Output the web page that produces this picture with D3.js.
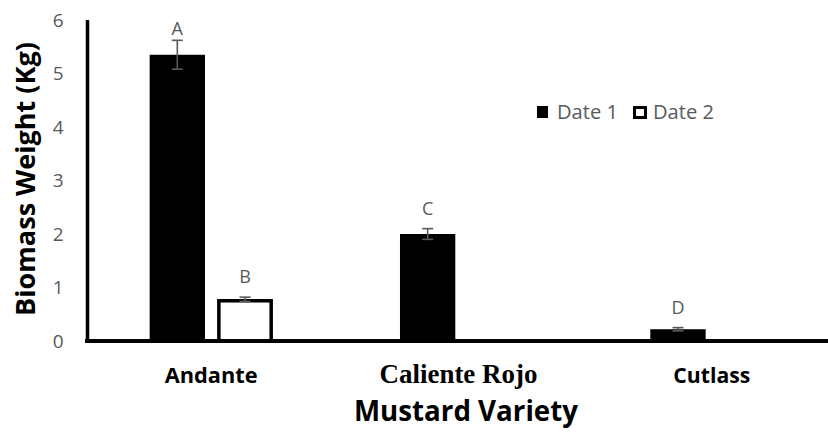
<!DOCTYPE html>
<html>
<head>
<meta charset="utf-8">
<script src="https://cdn.jsdelivr.net/npm/d3@7"></script>
<style>
  html, body { margin: 0; padding: 0; background: #fff; }
  svg { display: block; }
</style>
</head>
<body>
<svg id="chart" width="828" height="433"></svg>
<script>
// ---- data ----
const categories = ["Andante", "Caliente Rojo", "Cutlass"];
const seriesNames = ["Date 1", "Date 2"];
const date1Values = [5.35, 2.0, 0.22];
const date2Values = [0.78, 0, 0];
const date1Errors = [0.27, 0.1, 0.03];
const date2Errors = [0.04, 0, 0];
const date1Letters = ["A", "C", "D"];
const date2Letters = ["B", "", ""];
const yTicks = [0, 1, 2, 3, 4, 5, 6];

// ---- layout ----
const svg = d3.select("#chart");
const W = 828, H = 433;
const x0 = 86, x1 = 837, yTop = 20, yBottom = 341;

const x = d3.scaleBand().domain(categories).range([x0, x1]).paddingInner(0).paddingOuter(0);
const xs = d3.scaleBand().domain(seriesNames).range([0, x.bandwidth()]).paddingInner(0.183).paddingOuter(0.94);
const y = d3.scaleLinear().domain([0, 6]).range([yBottom, yTop]);

const textFont = "'Open Sans', Lato, sans-serif";
const serifFont = "'Liberation Serif', 'Times New Roman', serif";
const gray = "#595959";

// scale font-size so the text has the given width
function fit(sel, target) {
  sel.each(function () {
    const t = d3.select(this);
    const fs = parseFloat(t.attr("font-size"));
    const w = this.getComputedTextLength();
    if (w > 0) t.attr("font-size", fs * target / w);
  });
}

const rows = [];
categories.forEach((c, i) => {
  rows.push({cat: c, s: seriesNames[0], v: date1Values[i], e: date1Errors[i], l: date1Letters[i]});
  rows.push({cat: c, s: seriesNames[1], v: date2Values[i], e: date2Errors[i], l: date2Letters[i]});
});

// bars
svg.append("g").selectAll("rect").data(rows.filter(d => d.v > 0)).join("rect")
  .attr("x", d => x(d.cat) + xs(d.s) + (d.s === "Date 2" ? 1.5 : 0))
  .attr("y", d => y(d.v) + (d.s === "Date 2" ? 1.5 : 0))
  .attr("width", d => xs.bandwidth() - (d.s === "Date 2" ? 3 : 0))
  .attr("height", d => y(0) - y(d.v) - (d.s === "Date 2" ? 1.5 : 0))
  .attr("fill", d => d.s === "Date 1" ? "#000" : "#fff")
  .attr("stroke", d => d.s === "Date 1" ? "none" : "#000")
  .attr("stroke-width", 3.5);

// error bars
const eb = svg.append("g").attr("stroke", gray).attr("stroke-width", 1.6).attr("fill", "none");
rows.filter(d => d.v > 0 && d.e > 0).forEach(d => {
  const cx = x(d.cat) + xs(d.s) + xs.bandwidth() / 2;
  const cap = 5.5;
  eb.append("line").attr("x1", cx).attr("x2", cx).attr("y1", y(d.v + d.e)).attr("y2", y(d.v - d.e));
  eb.append("line").attr("x1", cx - cap).attr("x2", cx + cap).attr("y1", y(d.v + d.e)).attr("y2", y(d.v + d.e));
  eb.append("line").attr("x1", cx - cap).attr("x2", cx + cap).attr("y1", y(d.v - d.e)).attr("y2", y(d.v - d.e));
});

// letters
svg.append("g").selectAll("text").data(rows.filter(d => d.l)).join("text")
  .attr("x", d => x(d.cat) + xs(d.s) + xs.bandwidth() / 2)
  .attr("y", d => Math.max(y(d.v + d.e) - 14, 35))
  .attr("text-anchor", "middle")
  .attr("font-family", textFont).attr("font-size", 18).attr("fill", gray)
  .text(d => d.l);

// y axis
const yAxis = d3.axisLeft(y).tickValues(yTicks).tickSize(0).tickPadding(24).tickFormat(d3.format("d"));
const gy = svg.append("g").attr("transform", `translate(${x0 + 1.5},0)`).call(yAxis);
gy.select(".domain").remove();
gy.selectAll("text").attr("font-family", textFont).attr("font-size", 19).attr("fill", gray);
svg.append("line").attr("x1", x0 + 1.5).attr("x2", x0 + 1.5).attr("y1", yTop).attr("y2", yBottom)
  .attr("stroke", "#000").attr("stroke-width", 3.5);

// x axis line
const xAxis = d3.axisBottom(x).tickSize(0).tickFormat("");
const gx = svg.append("g").attr("transform", `translate(0,${yBottom})`).call(xAxis);
gx.select(".domain").attr("stroke", "#000").attr("stroke-width", 4).attr("d", `M${x0 - 1},0H${W}`);

// category labels
const catWidths = {"Andante": 93, "Caliente Rojo": 158, "Cutlass": 77};
const catShift = {"Andante": 0, "Caliente Rojo": -3, "Cutlass": 0};
const catLabels = svg.append("g").selectAll("text").data(categories).join("text")
  .attr("x", d => x(d) + x.bandwidth() / 2 + catShift[d])
  .attr("y", 383)
  .attr("text-anchor", "middle")
  .attr("font-family", d => d === "Caliente Rojo" ? serifFont : textFont)
  .attr("font-weight", "bold")
  .attr("font-size", 20)
  .attr("fill", "#000")
  .text(d => d);
catLabels.each(function (d) { fit(d3.select(this), catWidths[d]); });

// axis titles
const yTitle = svg.append("text").attr("transform", "translate(35,179) rotate(-90)").attr("text-anchor", "middle")
  .attr("font-family", textFont).attr("font-weight", "bold").attr("font-size", 22).attr("fill", "#000")
  .text("Biomass Weight (Kg)");
fit(yTitle, 274);
const xTitle = svg.append("text").attr("x", 466).attr("y", 421).attr("text-anchor", "middle")
  .attr("font-family", textFont).attr("font-weight", "bold").attr("font-size", 22).attr("fill", "#000")
  .text("Mustard Variety");
fit(xTitle, 224);

// legend
const legend = svg.append("g");
const legendX = [537, 633];
seriesNames.forEach((s, i) => {
  const g = legend.append("g").attr("transform", `translate(${legendX[i]},106)`);
  g.append("rect").attr("x", i === 0 ? 0 : 1.5).attr("y", i === 0 ? 0 : 1.5)
    .attr("width", 11).attr("height", i === 0 ? 12 : 10)
    .attr("fill", i === 0 ? "#000" : "#fff").attr("stroke", i === 0 ? "none" : "#000").attr("stroke-width", 3);
  const t = g.append("text").attr("x", 20).attr("y", 13)
    .attr("font-family", textFont).attr("font-size", 19).attr("fill", gray).text(s);
  fit(t, 61);
});
</script>
</body>
</html>
